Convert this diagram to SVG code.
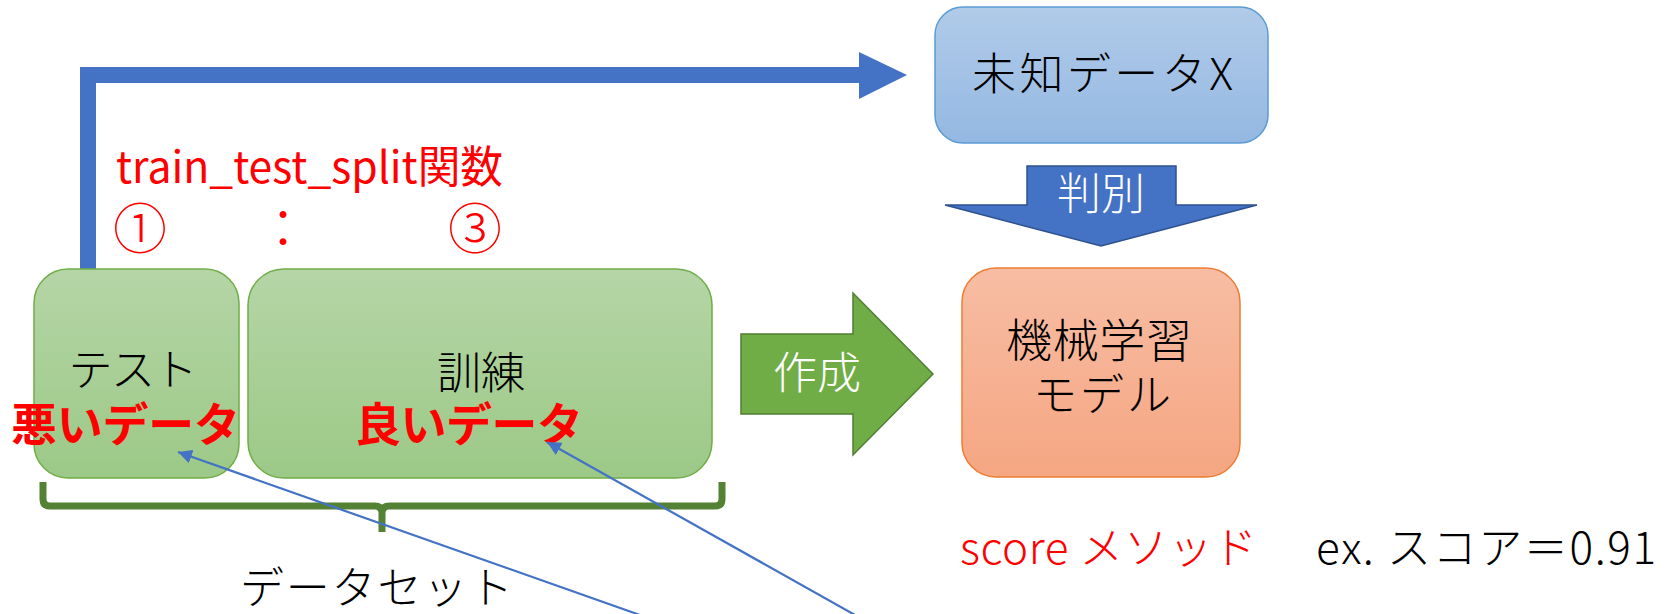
<svg xmlns="http://www.w3.org/2000/svg" width="1672" height="614" viewBox="0 0 1672 614">
<defs>
<linearGradient id="gGreen" x1="0" y1="0" x2="0" y2="1"><stop offset="0" stop-color="#b5d5a6"/><stop offset="1" stop-color="#9cc987"/></linearGradient>
<linearGradient id="gBlue" x1="0" y1="0" x2="0" y2="1"><stop offset="0" stop-color="#b1cbe9"/><stop offset="1" stop-color="#94b8e2"/></linearGradient>
<linearGradient id="gOrange" x1="0" y1="0" x2="0" y2="1"><stop offset="0" stop-color="#f7bda4"/><stop offset="1" stop-color="#f5a682"/></linearGradient>
<marker id="ah" markerUnits="userSpaceOnUse" markerWidth="16" markerHeight="14" refX="14" refY="7" orient="auto"><path d="M0,0 L14,7 L0,14 Z" fill="#4472c4"/></marker>
<style>
text{font-family:"Noto Sans CJK JP","Noto Sans",sans-serif;font-size:44px}
.blk{fill:#000;font-weight:300}
.red{fill:#ff0000}
.wht{fill:#fff;font-weight:300}
.bold{font-weight:bold;font-size:46px}
.gbox{fill:url(#gGreen);stroke:#70ad47;stroke-width:1.5}
.thin{stroke:#4472c4;stroke-width:2.2;fill:none}
</style>
</defs>
<g id="connectors">
<path d="M88,270 V75 H860" fill="none" stroke="#4472c4" stroke-width="16" stroke-linejoin="miter"/>
<polygon points="859,52 907,75 859,99" fill="#4472c4"/>
</g>
<g id="label-split">
<text class="red" x="116" y="183" textLength="387" lengthAdjust="spacingAndGlyphs">train_test_split関数</text>
<text class="red" y="249" style="font-size:54px;font-weight:300"><tspan x="113">①</tspan><tspan x="256">：</tspan><tspan x="448">③</tspan></text>
</g>
<g id="node-unknown">
<rect x="935" y="7" width="333" height="136" rx="28" fill="url(#gBlue)" stroke="#5b9bd5" stroke-width="1.5"/>
<text class="blk" x="972" y="90" textLength="261" lengthAdjust="spacing">未知データX</text>
</g>
<g id="node-judge">
<polygon points="1027,166 1176,166 1176,205 1257,205 1101,246 945,205 1027,205" fill="#4472c4" stroke="#2f528f" stroke-width="1.5"/>
<text class="wht" x="1101" y="210" text-anchor="middle">判別</text>
</g>
<g id="node-test">
<rect x="34" y="269" width="205" height="209" rx="34" class="gbox"/>
<text class="blk" x="133" y="386" text-anchor="middle" textLength="129" lengthAdjust="spacing">テスト</text>
</g>
<g id="node-train">
<rect x="248" y="269" width="464" height="209" rx="36" class="gbox"/>
<text class="blk" x="481" y="389" text-anchor="middle">訓練</text>
</g>
<g id="label-bad">
<text class="red bold" x="11" y="441" textLength="229" lengthAdjust="spacing">悪いデータ</text>
</g>
<g id="label-good">
<text class="red bold" x="355" y="441" textLength="228" lengthAdjust="spacing">良いデータ</text>
</g>
<g id="brace">
<path d="M43,482 V499 Q43,506 50,506 H375 Q382,506 382,513 V532 M382,513 Q382,506 389,506 H715 Q722,506 722,499 V482" fill="none" stroke="#548235" stroke-width="7"/>
</g>
<g id="label-dataset">
<text class="blk" x="240" y="604" textLength="273" lengthAdjust="spacing">データセット</text>
</g>
<g id="node-create">
<polygon points="741,334 853,334 853,293 933,374 853,455 853,414 741,414" fill="#70ad47" stroke="#507e32" stroke-width="1.5"/>
<text class="wht" x="817" y="389" text-anchor="middle">作成</text>
</g>
<g id="node-model">
<rect x="962" y="268" width="278" height="209" rx="34" fill="url(#gOrange)" stroke="#ed7d31" stroke-width="1.5"/>
<text class="blk" x="1099" y="357" text-anchor="middle" textLength="186" lengthAdjust="spacing" style="font-size:46px">機械学習</text>
<text class="blk" x="1102" y="411" text-anchor="middle" textLength="138" lengthAdjust="spacing">モデル</text>
</g>
<g id="label-score">
<text class="red" x="960" y="564" textLength="297" lengthAdjust="spacing" style="font-weight:300">score メソッド</text>
<text class="blk" x="1316" y="564" textLength="340" lengthAdjust="spacing">ex. スコア＝0.91</text>
</g>
<g id="pointers">
<line x1="640" y1="615" x2="178" y2="452" class="thin" marker-end="url(#ah)"/>
<line x1="855" y1="615" x2="547" y2="442" class="thin" marker-end="url(#ah)"/>
</g>
</svg>
